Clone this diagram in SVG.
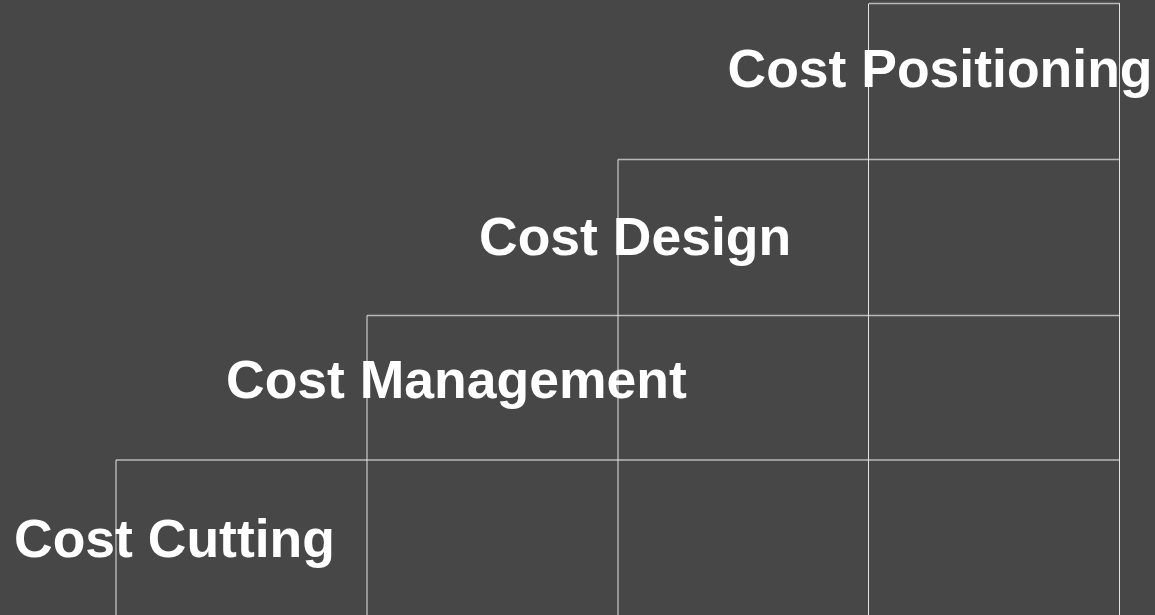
<svg xmlns="http://www.w3.org/2000/svg" width="1155" height="615" viewBox="0 0 1155 615">
  <style>
    .h { stroke: #b8b8b8; stroke-width: 1.5; fill: none; }
    .v { stroke: #e4e4e4; stroke-width: 1; fill: none; }
    .label { font-family: "Liberation Sans", Arial, sans-serif; font-weight: bold; font-size: 53.5px; fill: #ffffff; }
  </style>
  <rect x="0" y="0" width="1155" height="615" fill="#474747"/>
  <!-- staircase grid -->
  <g id="grid">
    <line class="h" x1="869" y1="3.5" x2="1120" y2="3.5"/>
    <line class="h" x1="618" y1="159.5" x2="1120" y2="159.5"/>
    <line class="h" x1="367" y1="315.5" x2="1120" y2="315.5"/>
    <line class="h" x1="116" y1="460" x2="1120" y2="460"/>
    <line class="v" x1="116" y1="460" x2="116" y2="615"/>
    <line class="v" x1="367" y1="315.5" x2="367" y2="615"/>
    <line class="v" x1="618" y1="159.5" x2="618" y2="615"/>
    <line class="v" x1="868.5" y1="3.5" x2="868.5" y2="615"/>
    <line class="v" x1="1119.5" y1="3.5" x2="1119.5" y2="615"/>
  </g>
  <g id="cost-cutting"><text class="label" x="14" y="557">Cost Cutting</text></g>
  <g id="cost-management"><text class="label" x="226" y="398">Cost Management</text></g>
  <g id="cost-design"><text class="label" x="479" y="255">Cost Design</text></g>
  <g id="cost-positioning"><text class="label" x="727.5" y="87">Cost Positioning</text></g>
</svg>
